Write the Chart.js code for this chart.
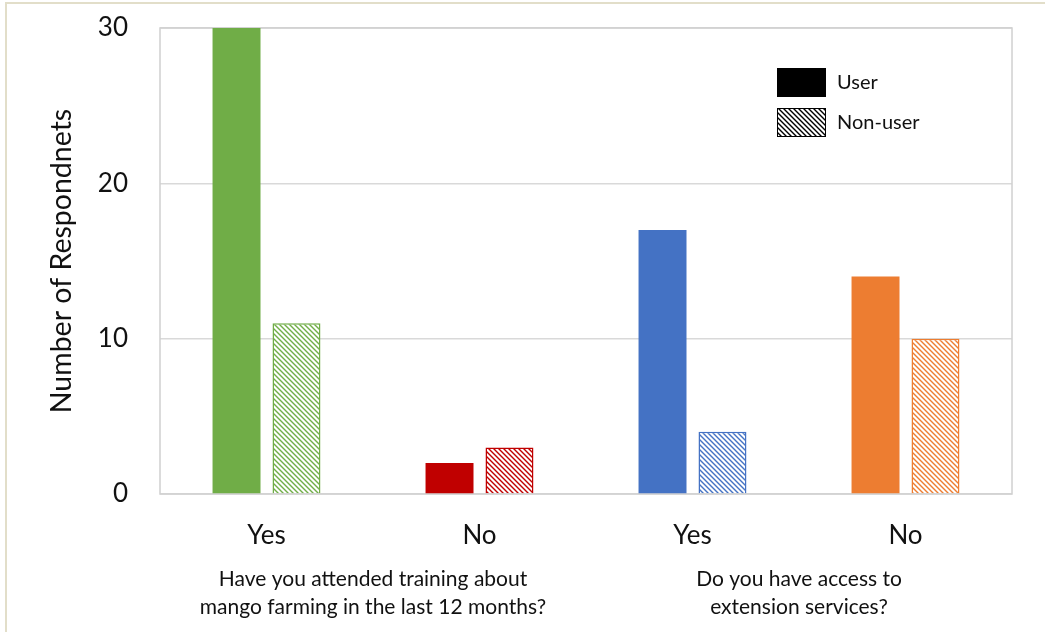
<!DOCTYPE html>
<html>
<head>
<meta charset="utf-8">
<script src="https://cdn.jsdelivr.net/npm/chart.js@4/dist/chart.umd.min.js"></script>
<style>
  html, body { margin: 0; padding: 0; background: #fff; }
  #wrap { position: relative; width: 1045px; height: 632px; }
  #frame { position: absolute; left: 5px; top: 2px; right: 0; bottom: 0;
           border-top: 2px solid #e2dec9; border-left: 2px solid #e2dec9; pointer-events: none; }
</style>
</head>
<body>
<div id="wrap">
  <canvas id="chart" width="1045" height="632"></canvas>
  <div id="frame"></div>
</div>
<script>
// answers per question
const categories = ['Yes', 'No', 'Yes', 'No'];
const userCounts = [30, 2, 17, 14];
const nonUserCounts = [11, 3, 4, 10];
const barColors = ['#70AD47', '#C00000', '#4472C4', '#ED7D31'];
const seriesNames = ['User', 'Non-user'];
const groupTitles = [
    ['Have you attended training about', 'mango farming in the last 12 months?'],
    ['Do you have access to', 'extension services?']
];
const yTicks = [0, 10, 20, 30];

const FONT = 'Lato, "Open Sans", sans-serif';

// diagonal hatch fill ("\\\") in a given colour
function hatch(color) {
    const c = document.createElement('canvas');
    c.width = 5; c.height = 5;
    const g = c.getContext('2d');
    g.fillStyle = '#fff';
    g.fillRect(0, 0, 5, 5);
    g.strokeStyle = color;
    g.lineWidth = 1.4;
    g.beginPath();
    g.moveTo(-1, -1); g.lineTo(6, 6);
    g.moveTo(-1, 4); g.lineTo(1, 6);
    g.moveTo(4, -1); g.lineTo(6, 1);
    g.stroke();
    return document.getElementById('chart').getContext('2d').createPattern(c, 'repeat');
}

// plot box + legend + question titles
const extras = {
    id: 'extras',
    beforeDatasetsDraw(chart) {
        const { ctx, chartArea: a } = chart;
        ctx.save();
        ctx.strokeStyle = '#d0d0d0';
        ctx.lineWidth = 1.5;
        ctx.strokeRect(a.left, a.top, a.right - a.left, a.bottom - a.top);
        ctx.restore();
    },
    afterDraw(chart) {
        const { ctx, scales: { x } } = chart;
        ctx.save();
        // legend
        const lx = 777, ly = [68, 108], bw = 49, bh = 29;
        const fills = ['#000', hatch('#000')];
        seriesNames.forEach((name, i) => {
            ctx.fillStyle = fills[i];
            ctx.fillRect(lx, ly[i], bw, bh);
            ctx.strokeStyle = '#000';
            ctx.lineWidth = 1;
            ctx.strokeRect(lx + 0.5, ly[i] + 0.5, bw - 1, bh - 1);
            ctx.fillStyle = '#111';
            ctx.font = '20px ' + FONT;
            ctx.textAlign = 'left';
            ctx.textBaseline = 'middle';
            ctx.fillText(name, lx + bw + 11, ly[i] + bh / 2);
        });
        // question titles under each pair of categories
        ctx.font = '21px ' + FONT;
        ctx.textAlign = 'center';
        ctx.fillStyle = '#111';
        groupTitles.forEach((lines, gi) => {
            const cx = (x.getPixelForValue(gi * 2) + x.getPixelForValue(gi * 2 + 1)) / 2;
            lines.forEach((t, li) => ctx.fillText(t, cx, 579 + li * 28));
        });
        ctx.restore();
    }
};

new Chart(document.getElementById('chart'), {
    type: 'bar',
    data: {
        labels: categories,
        datasets: [{
            label: seriesNames[0],
            data: userCounts,
            backgroundColor: barColors,
            borderWidth: 0
        }, {
            label: seriesNames[1],
            data: nonUserCounts,
            backgroundColor: barColors.map(hatch),
            borderColor: barColors,
            borderWidth: 1.5
        }]
    },
    options: {
        responsive: false,
        animation: false,
        categoryPercentage: 0.563,
        barPercentage: 0.8,
        layout: { padding: { left: 0, top: 28, right: 33, bottom: 0 } },
        plugins: {
            legend: { display: false },
            tooltip: { enabled: false }
        },
        scales: {
            x: {
                grid: { display: false },
                border: { display: false },
                ticks: { color: '#111', font: { family: FONT, size: 26 }, padding: 18 },
                afterFit: s => { s.height = 138; }
            },
            y: {
                min: 0,
                max: 30,
                afterBuildTicks: s => { s.ticks = yTicks.map(v => ({ value: v })); },
                grid: { color: '#d9d9d9', lineWidth: 1.5, drawTicks: false },
                border: { display: false },
                ticks: { color: '#111', font: { family: FONT, size: 26 }, padding: 32 },
                title: {
                    display: true,
                    text: 'Number of Respondnets',
                    color: '#111',
                    font: { family: FONT, size: 28.5 },
                    padding: { top: 45, bottom: 0 }
                },
                // fixed axis width; let the top "30" label overhang the plot
                afterFit: s => { s.width = 160; s.paddingTop = 0; }
            }
        }
    },
    plugins: [extras]
});
</script>
</body>
</html>
